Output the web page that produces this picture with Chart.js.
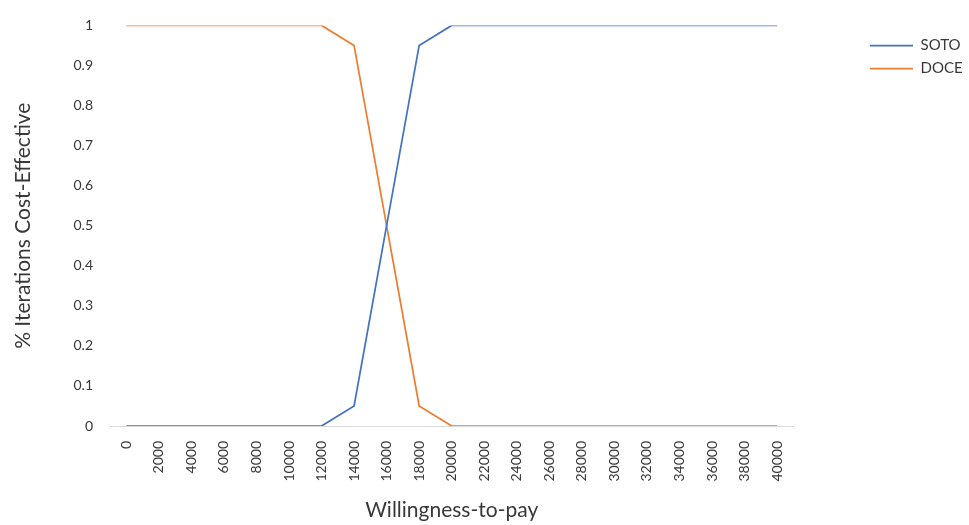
<!DOCTYPE html>
<html>
<head>
<meta charset="utf-8">
<script src="https://cdn.jsdelivr.net/npm/chart.js@4"></script>
<style>
  html, body { margin: 0; padding: 0; background: #ffffff; }
  #wrap { width: 969px; height: 525px; }
</style>
</head>
<body>
<div id="wrap"><canvas id="chart" width="969" height="525"></canvas></div>
<script>
const wtp = ['0', '2000', '4000', '6000', '8000', '10000', '12000', '14000', '16000', '18000', '20000',
  '22000', '24000', '26000', '28000', '30000', '32000', '34000', '36000', '38000', '40000'];
const soto = [0, 0, 0, 0, 0, 0, 0, 0.05, 0.5, 0.95, 1, 1, 1, 1, 1, 1, 1, 1, 1, 1, 1];
const doce = [1, 1, 1, 1, 1, 1, 1, 0.95, 0.5, 0.05, 0, 0, 0, 0, 0, 0, 0, 0, 0, 0, 0];

const textColor = '#383838';
const fontFamily = 'Lato, "Open Sans", sans-serif';

// Excel puts the legend well right of the plot, so move it after layout
const legendNudge = {
  id: 'legendNudge',
  afterLayout(chart, args, opts) {
    const lg = chart.legend;
    const dx = opts.left - lg.left;
    const dy = opts.top - lg.top;
    lg.left += dx; lg.right += dx;
    lg.top += dy; lg.bottom += dy;
  }
};

const ctx = document.getElementById('chart').getContext('2d');
new Chart(ctx, {
  type: 'line',
  data: {
    labels: wtp,
    datasets: [
      {
        label: 'SOTO',
        data: soto,
        borderColor: '#4472C4',
        backgroundColor: '#4472C4',
        borderWidth: 1.75,
        pointRadius: 0,
        tension: 0
      },
      {
        label: 'DOCE',
        data: doce,
        borderColor: '#ED7D31',
        backgroundColor: '#ED7D31',
        borderWidth: 1.75,
        pointRadius: 0,
        tension: 0
      }
    ]
  },
  options: {
    responsive: false,
    animation: false,
    layout: {
      padding: { top: 23, left: 7, right: 65, bottom: 0 }
    },
    plugins: {
      legendNudge: { left: 862, top: 30 },
      tooltip: { enabled: false },
      legend: {
        position: 'right',
        align: 'start',
        labels: {
          usePointStyle: true,
          pointStyle: 'line',
          pointStyleWidth: 43,
          padding: 8,
          color: textColor,
          font: { family: fontFamily, size: 15 }
        }
      }
    },
    scales: {
      x: {
        offset: true,
        afterFit: axis => { axis.height = 99; },
        grid: { display: false, drawTicks: false },
        border: { display: true, color: '#d9d9d9', width: 1 },
        ticks: {
          color: textColor,
          font: { family: fontFamily, size: 14 },
          maxRotation: 90,
          minRotation: 90,
          padding: 15,
          autoSkip: false
        },
        title: {
          display: true,
          text: 'Willingness-to-pay',
          color: textColor,
          font: { family: fontFamily, size: 21 },
          padding: { top: 0, bottom: 2 }
        }
      },
      y: {
        min: 0,
        max: 1,
        afterFit: axis => { axis.width = 103; },
        grid: { display: false, drawTicks: false },
        border: { display: false },
        ticks: {
          stepSize: 0.1,
          color: textColor,
          font: { family: fontFamily, size: 14 },
          padding: 17,
          callback: value => String(Math.round(value * 10) / 10)
        },
        title: {
          display: true,
          text: '% Iterations Cost-Effective',
          color: textColor,
          font: { family: fontFamily, size: 21 },
          padding: { top: 4, bottom: 4 }
        }
      }
    }
  },
  plugins: [legendNudge]
});
</script>
</body>
</html>
